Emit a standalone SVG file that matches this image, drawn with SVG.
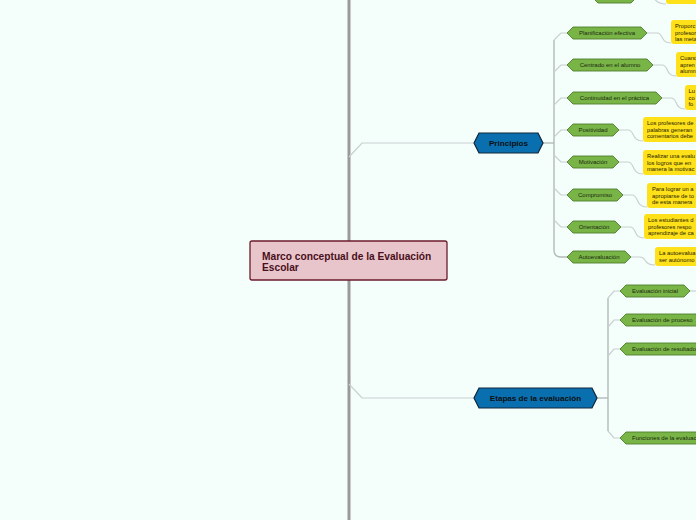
<svg xmlns="http://www.w3.org/2000/svg" width="696" height="520" viewBox="0 0 696 520">
<style>
.bg{fill:#f4fffc}
.main{stroke:#9a9a9a;stroke-width:3;fill:none}
.con{stroke:#c9d0cf;stroke-width:1.2;fill:none}
.trunk{stroke:#b4b9b9;stroke-width:1.4;fill:none}
.root{fill:#e8c5ca;stroke:#6b1c2b;stroke-width:1.3}
.rootT{font-family:"Liberation Sans",Arial,sans-serif;font-weight:bold;font-size:10.2px;fill:#4a0f1c}
.blue{fill:#0a6fae;stroke:#10263a;stroke-width:1.2}
.blueT{font-family:"Liberation Sans",Arial,sans-serif;font-weight:bold;font-size:8.1px;fill:#0b0f14;text-anchor:middle}
.green{fill:#79b447;stroke:#4e7f2c;stroke-width:0.9}
.greenT{font-family:"Liberation Sans",Arial,sans-serif;font-size:6px;fill:#1b2a10;text-anchor:middle}
.greenL{font-family:"Liberation Sans",Arial,sans-serif;font-size:6px;fill:#1b2a10}
.note{fill:#ffe11a}
.noteT{font-family:"Liberation Sans",Arial,sans-serif;font-size:5.8px;fill:#1a1a00}
</style>
<rect class="bg" x="0" y="0" width="696" height="520"/>
<line class="main" x1="349" y1="0" x2="349" y2="520"/>

<g id="connectors">
  <path class="con" d="M349,157 L362,143 H474"/>
  <path class="con" d="M349,384 L362,398 H474"/>
  <path class="trunk" d="M543,143 H554"/>
  <path class="trunk" d="M554,40 V250 Q554,257 561,257 H567"/>
  <path class="con" d="M554,40 L561,33 H567"/>
  <path class="con" d="M554,72 L561,65 H567"/>
  <path class="con" d="M554,105 L561,98 H567"/>
  <path class="con" d="M554,137 L561,130 H567"/>
  <path class="con" d="M554,155 L561,162 H567"/>
  <path class="con" d="M554,188 L561,195 H567"/>
  <path class="con" d="M554,220 L561,227 H567"/>
  <path class="trunk" d="M597,398 H608"/>
  <path class="trunk" d="M608,298 V431"/>
  <path class="con" d="M608,298 L614,291 H620"/>
  <path class="con" d="M608,327 L614,320 H620"/>
  <path class="con" d="M608,356 L614,349 H620"/>
  <path class="con" d="M608,431 L614,438 H620"/>
  <path class="con" d="M690,291 H696"/>
  <path class="con" d="M637,-3 H650 C656,-3 654,4 666,4"/>
  <path class="con" d="M647,33 H657 C664,33 660,43 671,43"/>
  <path class="con" d="M653,65 H662 C669,65 665,76 676,76"/>
  <path class="con" d="M662,98 H671 C678,98 674,109 685,109"/>
  <path class="con" d="M619,130 H628 C635,130 631,141 643,141"/>
  <path class="con" d="M619,162 H628 C635,162 631,174 643,174"/>
  <path class="con" d="M623,195 H632 C639,195 635,207 647,207"/>
  <path class="con" d="M621,227 H630 C637,227 633,238 644,238"/>
  <path class="con" d="M631,257 H640 C647,257 643,265 655,265"/>
</g>

<g id="root">
  <rect class="root" x="250" y="241" width="197" height="39" rx="2"/>
  <text class="rootT" x="262" y="259.5">Marco conceptual de la Evaluación</text>
  <text class="rootT" x="262" y="271">Escolar</text>
</g>

<g id="principios">
  <path class="blue" d="M474,143 L479,133 H538 L543,143 L538,153 H479 Z"/>
  <text class="blueT" x="508.5" y="146">Principios</text>
</g>

<g id="etapas">
  <path class="blue" d="M474,398 L479,388 H592 L597,398 L592,408 H479 Z"/>
  <text class="blueT" x="535.5" y="401">Etapas de la evaluación</text>
</g>

<g id="top-node">
  <path class="green" d="M592,-3 L598,-9 H631 L637,-3 L631,3 H598 Z"/>
</g>
<g id="top-note">
  <rect class="note" x="666" y="-20" width="40" height="24" rx="3"/>
</g>

<g id="planificacion">
  <path class="green" d="M567,33 L573,27 H641 L647,33 L641,39 H573 Z"/>
  <text class="greenT" x="607" y="35.2">Planificación efectiva</text>
</g>
<g id="centrado">
  <path class="green" d="M567,65 L573,59 H647 L653,65 L647,71 H573 Z"/>
  <text class="greenT" x="610" y="67.2">Centrado en el alumno</text>
</g>
<g id="continuidad">
  <path class="green" d="M567,98 L573,92 H656 L662,98 L656,104 H573 Z"/>
  <text class="greenT" x="614.5" y="100.2">Continuidad en el práctica</text>
</g>
<g id="positividad">
  <path class="green" d="M567,130 L573,124 H613 L619,130 L613,136 H573 Z"/>
  <text class="greenT" x="593" y="132.2">Positividad</text>
</g>
<g id="motivacion">
  <path class="green" d="M567,162 L573,156 H613 L619,162 L613,168 H573 Z"/>
  <text class="greenT" x="593" y="164.2">Motivación</text>
</g>
<g id="compromiso">
  <path class="green" d="M567,195 L573,189 H617 L623,195 L617,201 H573 Z"/>
  <text class="greenT" x="595" y="197.2">Compromiso</text>
</g>
<g id="orientacion">
  <path class="green" d="M567,227 L573,221 H615 L621,227 L615,233 H573 Z"/>
  <text class="greenT" x="594" y="229.2">Orientación</text>
</g>
<g id="autoevaluacion">
  <path class="green" d="M567,257 L573,251 H625 L631,257 L625,263 H573 Z"/>
  <text class="greenT" x="599" y="259.2">Autoevaluación</text>
</g>

<g id="note-planificacion">
  <rect class="note" x="671" y="20" width="40" height="24" rx="3"/>
  <text class="noteT" x="675" y="28">Proporc</text>
  <text class="noteT" x="675" y="34.5">profesor</text>
  <text class="noteT" x="675" y="41">las meta</text>
</g>
<g id="note-centrado">
  <rect class="note" x="676" y="52" width="40" height="25" rx="3"/>
  <text class="noteT" x="680" y="60">Cuand</text>
  <text class="noteT" x="680" y="66.5">apren</text>
  <text class="noteT" x="680" y="73">alumn</text>
</g>
<g id="note-continuidad">
  <rect class="note" x="685" y="85" width="30" height="25" rx="3"/>
  <text class="noteT" x="688.5" y="93">Lu</text>
  <text class="noteT" x="688.5" y="99.5">co</text>
  <text class="noteT" x="688.5" y="106">fo</text>
</g>
<g id="note-positividad">
  <rect class="note" x="643" y="117" width="70" height="25" rx="3"/>
  <text class="noteT" x="647" y="125">Los profesores de</text>
  <text class="noteT" x="647" y="131.5">palabras generan</text>
  <text class="noteT" x="647" y="138">comentarios debe</text>
</g>
<g id="note-motivacion">
  <rect class="note" x="643" y="150" width="70" height="25" rx="3"/>
  <text class="noteT" x="647" y="158">Realizar una evalu</text>
  <text class="noteT" x="647" y="164.5">los logros que en</text>
  <text class="noteT" x="647" y="171">manera la motivac</text>
</g>
<g id="note-compromiso">
  <rect class="note" x="647" y="183" width="70" height="25" rx="3"/>
  <text class="noteT" x="652" y="191">Para lograr un a</text>
  <text class="noteT" x="652" y="197.5">apropiarse de to</text>
  <text class="noteT" x="652" y="204">de esta manera</text>
</g>
<g id="note-orientacion">
  <rect class="note" x="644" y="214" width="70" height="25" rx="3"/>
  <text class="noteT" x="648" y="222">Los estudiantes d</text>
  <text class="noteT" x="648" y="228.5">profesores respo</text>
  <text class="noteT" x="648" y="235">aprendizaje de ca</text>
</g>
<g id="note-autoevaluacion">
  <rect class="note" x="655" y="247" width="60" height="19" rx="3"/>
  <text class="noteT" x="659" y="255">La autoevalua</text>
  <text class="noteT" x="659" y="261.5">ser autónomo</text>
</g>

<g id="eval-inicial">
  <path class="green" d="M620,291 L626,285 H684 L690,291 L684,297 H626 Z"/>
  <text class="greenT" x="655" y="293.2">Evaluación inicial</text>
</g>
<g id="eval-proceso">
  <path class="green" d="M620,320 L626,314 H700 L706,320 L700,326 H626 Z"/>
  <text class="greenL" x="632" y="322.2">Evaluación de proceso</text>
</g>
<g id="eval-resultados">
  <path class="green" d="M620,349 L626,343 H708 L714,349 L708,355 H626 Z"/>
  <text class="greenL" x="632" y="351.2">Evaluación de resultado</text>
</g>
<g id="funciones">
  <path class="green" d="M620,438 L626,432 H712 L718,438 L712,444 H626 Z"/>
  <text class="greenL" x="632" y="440.2">Funciones de la evaluac</text>
</g>
</svg>
